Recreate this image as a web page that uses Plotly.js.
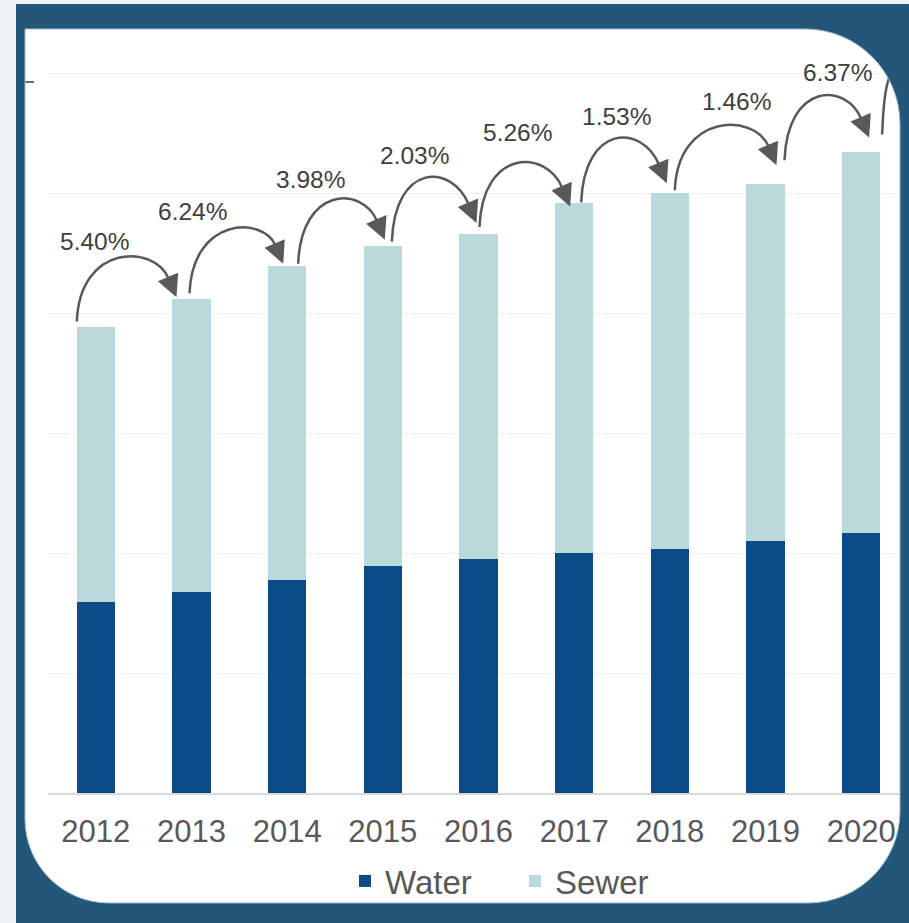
<!DOCTYPE html>
<html><head><meta charset="utf-8">
<script src="https://cdn.plot.ly/plotly-3.0.1.min.js"></script>
<style>html,body{margin:0;padding:0;background:#fff;} #chart{width:909px;height:923px;}</style>
</head><body><div id="chart"></div>
<script>
// ---------- data ----------
const years = ['2012','2013','2014','2015','2016','2017','2018','2019','2020'];
const water = [31.9, 33.5, 35.6, 37.9, 39.1, 40.0, 40.8, 42.0, 43.4];
const sewer = [45.95, 48.9, 52.4, 53.45, 54.2, 58.4, 59.3, 59.6, 63.65];
const growthLabels = ['5.40%','6.24%','3.98%','2.03%','5.26%','1.53%','1.46%','6.37%'];

// ---------- placement of the hand-drawn arrows (pixels) ----------
const arcStartDx   = [-19, -2, 11, 9, 1, 7, 5, 19, 21];
const arcStartLift = [5, 6, 2, 4, 7, 1, 3, 24, 17];
const arcEndDx     = [-15, -4, 2, -2, -4, -3, 11, 8, -15];
const arcEndLift   = [2, 2, 6, 11, -3, 10, 19, 14, 0];
const labelDx      = [-1, 1, 23, 32, 39, 42, 67, 72];
const labelRise    = [85, 88, 86, 90, 101, 87, 92, 112];

// ---------- geometry ----------
const W = 909, H = 923, ML = 48, MR = 0, MB = 130;
const pxPerUnit = 719 / 120;
const YR = [0, 121];
const MT = 793 - YR[1] * pxPerUnit;
const XR = [-0.5, 8.5];
const plotW = W - ML - MR, plotH = H - MT - MB;
const pxX = v => ML + (v - XR[0]) / (XR[1] - XR[0]) * plotW;
const pxY = v => MT + (YR[1] - v) / (YR[1] - YR[0]) * plotH;
const dX = p => XR[0] + (p - ML) / plotW * (XR[1] - XR[0]);
const dY = p => YR[1] - (p - MT) / plotH * (YR[1] - YR[0]);
const pX = p => (p - ML) / plotW;
const pY = p => (MT + plotH - p) / plotH;
const D = (x, y) => dX(x).toFixed(4) + ',' + dY(y).toFixed(4);
const P = (x, y) => pX(x).toFixed(5) + ',' + pY(y).toFixed(5);

const idx = years.map((_, i) => i);
const totals = water.map((w, i) => w + sewer[i]);

const shapes = [];
const annotations = [];
const arcColor = '#595959';

// curved arrows between consecutive bar tops
for (let i = 0; i < arcStartDx.length; i++) {
  const nextIdx = i + 1;
  const nextTotal = nextIdx < totals.length ? totals[nextIdx] : totals[i];
  const x0 = pxX(i) + arcStartDx[i], y0 = pxY(totals[i]) - arcStartLift[i];
  const tx = pxX(nextIdx) + arcEndDx[i], ty = pxY(nextTotal) - arcEndLift[i];
  let dx = 0.42, dy = 1; const n = Math.hypot(dx, dy); dx /= n; dy /= n;
  const L = 22, hw = 11;
  const bx = tx - dx * L, by = ty - dy * L;
  const apex = y0 - 64;
  const C = (apex - 0.125 * (y0 + by)) / 0.75;
  const x1 = x0 + 3, y1 = C;
  const x2 = bx - (by - C) * dx / dy, y2 = C;
  shapes.push({type: 'path', xref: 'x', yref: 'y', layer: 'above',
    path: 'M' + D(x0, y0) + ' C' + D(x1, y1) + ' ' + D(x2, y2) + ' ' + D(bx + dx * 2, by + dy * 2),
    line: {color: arcColor, width: 2.5}, fillcolor: 'rgba(0,0,0,0)'});
  const nx = -dy, ny = dx;
  shapes.push({type: 'path', xref: 'x', yref: 'y', layer: 'above',
    path: 'M' + D(tx, ty) + ' L' + D(bx + nx * hw, by + ny * hw) + ' L' + D(bx - nx * hw, by - ny * hw) + ' Z',
    line: {width: 0}, fillcolor: arcColor});
  if (i < growthLabels.length) {
    annotations.push({xref: 'x', yref: 'y', x: i + labelDx[i] / (plotW / 9),
      y: totals[i] + labelRise[i] / pxPerUnit, text: growthLabels[i], showarrow: false,
      font: {family: 'Liberation Sans, Arial, sans-serif', size: 24.5, color: '#404040'},
      xanchor: 'center', yanchor: 'middle'});
  }
}

// small leftover tick mark at the top-left
shapes.push({type: 'line', xref: 'paper', yref: 'paper', layer: 'above',
  x0: pX(25), x1: pX(34), y0: pY(82), y1: pY(82), line: {color: '#404040', width: 1.5}});

// frame: grey page edge, dark blue border and white rounded card
const k = 0.5523;
const cL = 25, cT = 29, cR = 900, cB = 903, rTR = 95, rBR = 92, rBL = 84;
const card = 'M' + P(cL, cT) + ' L' + P(cR - rTR, cT) +
  ' C' + P(cR - rTR + rTR * k, cT) + ' ' + P(cR, cT + rTR - rTR * k) + ' ' + P(cR, cT + rTR) +
  ' L' + P(cR, cB - rBR) +
  ' C' + P(cR, cB - rBR + rBR * k) + ' ' + P(cR - rBR + rBR * k, cB) + ' ' + P(cR - rBR, cB) +
  ' L' + P(cL + rBL, cB) +
  ' C' + P(cL + rBL - rBL * k, cB) + ' ' + P(cL, cB - rBL + rBL * k) + ' ' + P(cL, cB - rBL) + ' Z';
const blueRect = 'M' + P(16, 4) + ' L' + P(W, 4) + ' L' + P(W, H) + ' L' + P(16, H) + ' Z';
const fullRect = 'M' + P(0, 0) + ' L' + P(W, 0) + ' L' + P(W, H) + ' L' + P(0, H) + ' Z';
shapes.push({type: 'path', xref: 'paper', yref: 'paper', layer: 'above',
  path: fullRect + ' ' + blueRect, fillcolor: '#eff1f4', line: {width: 0}, fillrule: 'evenodd'});
shapes.push({type: 'path', xref: 'paper', yref: 'paper', layer: 'above',
  path: blueRect + ' ' + card, fillcolor: '#22577a', line: {width: 0}, fillrule: 'evenodd'});
shapes.push({type: 'path', xref: 'paper', yref: 'paper', layer: 'above',
  path: card, fillcolor: 'rgba(0,0,0,0)', line: {color: '#9fb6c8', width: 1}});

const font = 'Liberation Sans, Arial, sans-serif';
const traces = [
  {type: 'bar', name: 'Water', x: idx, y: water, width: 0.4,
   marker: {color: '#0a4b88', line: {width: 0}}},
  {type: 'bar', name: 'Sewer', x: idx, y: sewer, width: 0.4,
   marker: {color: '#bbd9da', line: {width: 0}}}
];

const layout = {
  width: W, height: H,
  margin: {l: ML, r: MR, t: MT, b: MB, pad: 0},
  paper_bgcolor: '#ffffff', plot_bgcolor: 'rgba(0,0,0,0)',
  barmode: 'stack', bargap: 0.6,
  font: {family: font, color: '#595959'},
  xaxis: {range: XR, tickmode: 'array', tickvals: idx, ticktext: years,
    showgrid: false, zeroline: false, showline: true, linecolor: '#d9d9d9', linewidth: 2,
    ticks: '', ticklabelstandoff: 10, tickfont: {family: font, size: 31, color: '#595959'}, fixedrange: true},
  yaxis: {range: YR, dtick: 20, tick0: 0, showticklabels: false, ticks: '',
    showgrid: true, gridcolor: '#efefef', gridwidth: 1, zeroline: false, showline: false, fixedrange: true},
  showlegend: true,
  legend: {orientation: 'h', x: pX(345), xanchor: 'left', y: pY(881), yanchor: 'middle',
    font: {family: font, size: 33, color: '#595959'}, traceorder: 'normal',
    entrywidth: 125, entrywidthmode: 'pixels', bgcolor: 'rgba(0,0,0,0)', borderwidth: 0},
  shapes: shapes,
  annotations: annotations,
  hovermode: false
};

Plotly.newPlot('chart', traces, layout, {displayModeBar: false, staticPlot: true});
</script>
</body></html>
